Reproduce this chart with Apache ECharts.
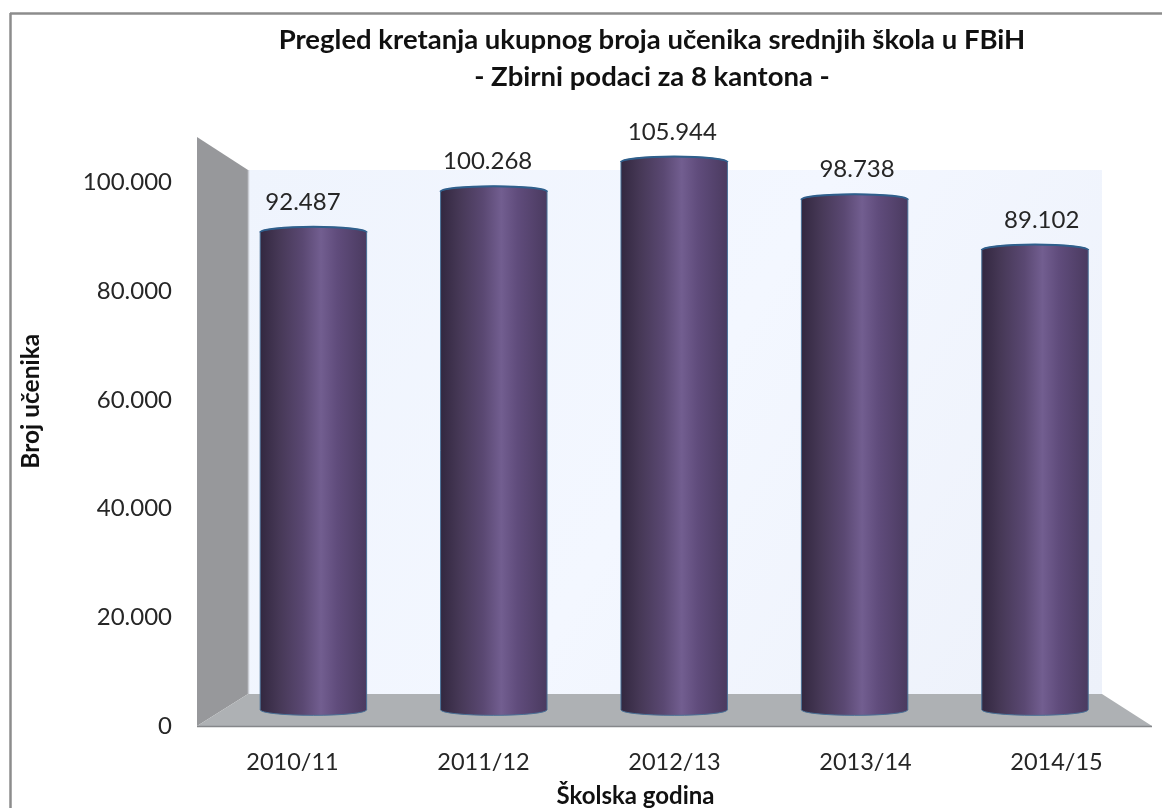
<!DOCTYPE html>
<html>
<head>
	<meta charset="utf-8">
	<title>Pregled kretanja ukupnog broja učenika</title>
	<script src="https://cdn.jsdelivr.net/npm/echarts@6/dist/echarts.min.js"></script>
	<style type="text/css">
		* {
			margin: 0;
			padding: 0;
		}

		body {
			background: #fff;
			overflow: hidden;
		}
	</style>
</head>
<body>
<div id="main" style="width:1162px;height:808px;"></div>
<script type="text/javascript">
    var categories = ['2010/11', '2011/12', '2012/13', '2013/14', '2014/15'];
    var students = [92487, 100268, 105944, 98738, 89102];
    var tickStep = 20000;
    var tickMax = 100000;

    var fontName = 'Lato';
    var textColor = '#262626';

    // 12.345 -> tacka kao separator hiljada
    function formatNumber(v) {
        return String(v).replace(/\B(?=(\d{3})+(?!\d))/g, '.');
    }

    var myChart = echarts.init(document.getElementById('main'));

    // valjak: tijelo i gornji rub, pozicije dolaze sa osa (api.coord)
    function renderCylinder(params, api) {
        var top = api.coord([api.value(0), api.value(1)]);
        // dno valjka stoji malo iznad nule zbog dubine poda
        var bottom = api.coord([api.value(0), 1100]);
        var w = api.size([1, 0])[0] * 0.59;
        var rx = w / 2;
        var ry = 5.5;
        var l = top[0] - rx;
        var r = top[0] + rx;
        var body = 'M' + l + ' ' + top[1] +
            'A' + rx + ' ' + ry + ' 0 0 1 ' + r + ' ' + top[1] +
            'L' + r + ' ' + bottom[1] +
            'A' + rx + ' ' + ry + ' 0 0 1 ' + l + ' ' + bottom[1] + 'Z';
        var rim = 'M' + l + ' ' + top[1] +
            'A' + rx + ' ' + ry + ' 0 0 1 ' + r + ' ' + top[1];
        return {
            type: 'group',
            children: [{
                type: 'path',
                shape: {pathData: body},
                style: {
                    fill: new echarts.graphic.LinearGradient(0, 0, 1, 0, [
                        {offset: 0, color: '#32273f'},
                        {offset: 0.18, color: '#463856'},
                        {offset: 0.4, color: '#5a4872'},
                        {offset: 0.57, color: '#725e90'},
                        {offset: 0.72, color: '#604c7c'},
                        {offset: 1, color: '#4a3a5f'}
                    ]),
                    stroke: '#4a7197',
                    lineWidth: 1
                }
            }, {
                type: 'path',
                shape: {pathData: rim},
                style: {fill: null, stroke: '#2f5f8c', lineWidth: 2}
            }]
        };
    }

    option = {
        animation: false,
        backgroundColor: '#fff',
        textStyle: {fontFamily: fontName},
        title: [{
            text: 'Pregled kretanja ukupnog broja učenika srednjih škola u FBiH',
            left: 647,
            textAlign: 'center',
            top: 21,
            textStyle: {fontFamily: fontName, fontSize: 27.5, fontWeight: 'bold', color: '#111'}
        }, {
            text: '- Zbirni podaci za 8 kantona -',
            left: 647,
            textAlign: 'center',
            top: 58,
            textStyle: {fontFamily: fontName, fontSize: 27.5, fontWeight: 'bold', color: '#111'}
        }],
        // zidovi i pod grafikona
        graphic: [
            {type: 'line', z: 0, shape: {x1: 10, y1: 13.5, x2: 1162, y2: 13.5}, style: {stroke: '#8c8c8c', lineWidth: 2.5}},
            {type: 'line', z: 0, shape: {x1: 10.5, y1: 13, x2: 10.5, y2: 808}, style: {stroke: '#8c8c8c', lineWidth: 2.5}},
            {
                type: 'polygon', z: 0,
                shape: {points: [[248, 170], [1102, 170], [1102, 694], [248, 694]]},
                style: {
                    fill: new echarts.graphic.LinearGradient(0, 0, 1, 1, [
                        {offset: 0, color: '#eff4fd'},
                        {offset: 0.5, color: '#f3f7ff'},
                        {offset: 1, color: '#edf1fa'}
                    ])
                }
            },
            {
                type: 'polygon', z: 0,
                shape: {points: [[197, 137], [248, 170], [248, 694], [197, 726]]},
                style: {fill: '#97989b'}
            },
            {type: 'line', z: 0, shape: {x1: 248.5, y1: 170, x2: 248.5, y2: 694}, style: {stroke: '#c9ccd2', lineWidth: 1.5}},
            {
                type: 'polygon', z: 0,
                shape: {points: [[248, 694], [1102, 694], [1152, 726], [197, 726]]},
                style: {fill: '#aeb1b4'}
            },
            {type: 'line', z: 0, shape: {x1: 197, y1: 726.5, x2: 1152, y2: 726.5}, style: {stroke: '#85878a', lineWidth: 1.5}}
        ],
        grid: [
            // prednja ravan: ose i natpisi
            {left: 197, width: 955, top: 182.5, height: 543.5, outerBoundsMode: 'none'},
            // sredina dubine: valjci
            {left: 223.2, width: 902, top: 88.6, height: 627, outerBoundsMode: 'none'},
            // natpisi vrijednosti
            {left: 210.6, width: 923.5, top: 88.6, height: 627, outerBoundsMode: 'none'}
        ],
        xAxis: [{
            gridIndex: 0,
            type: 'category',
            data: categories,
            name: 'Školska godina',
            nameLocation: 'middle',
            nameGap: 58,
            nameTextStyle: {
                color: '#111',
                fontFamily: fontName,
                fontSize: 24,
                fontWeight: 'bold',
                padding: [0, 78, 0, 0]
            },
            axisLine: {show: false},
            axisTick: {show: false},
            axisLabel: {color: textColor, fontSize: 23.5, margin: 24}
        }, {
            gridIndex: 1,
            type: 'category',
            data: categories,
            show: false
        }, {
            gridIndex: 2,
            type: 'category',
            data: categories,
            show: false
        }],
        yAxis: [{
            gridIndex: 0,
            type: 'value',
            min: 0,
            max: tickMax,
            interval: tickStep,
            name: 'Broj učenika',
            nameLocation: 'middle',
            nameGap: 153,
            nameTextStyle: {
                color: '#111',
                fontFamily: fontName,
                fontSize: 24.5,
                fontWeight: 'bold',
                padding: [0, 0, 0, 106]
            },
            axisLine: {show: false},
            axisTick: {show: false},
            splitLine: {show: false},
            axisLabel: {
                color: textColor,
                fontSize: 24,
                margin: 25,
                formatter: formatNumber
            }
        }, {
            gridIndex: 1,
            type: 'value',
            min: 0,
            max: 120000,
            show: false
        }, {
            gridIndex: 2,
            type: 'value',
            min: 0,
            max: 120000,
            show: false
        }],
        series: [{
            type: 'custom',
            name: 'Broj učenika',
            xAxisIndex: 1,
            yAxisIndex: 1,
            z: 3,
            clip: false,
            renderItem: renderCylinder,
            encode: {x: 0, y: 1},
            data: students.map(function (v, i) {
                return [i, v];
            })
        }, {
            type: 'scatter',
            name: 'Natpisi',
            xAxisIndex: 2,
            yAxisIndex: 2,
            z: 4,
            symbolSize: 1,
            itemStyle: {color: 'rgba(0,0,0,0)', opacity: 1},
            label: {
                show: true,
                position: 'top',
                distance: 17.5,
                color: textColor,
                fontFamily: fontName,
                fontSize: 24,
                formatter: function (p) {
                    return formatNumber(p.value);
                }
            },
            data: students
        }]
    };
    myChart.setOption(option);
</script>
</body>
</html>
